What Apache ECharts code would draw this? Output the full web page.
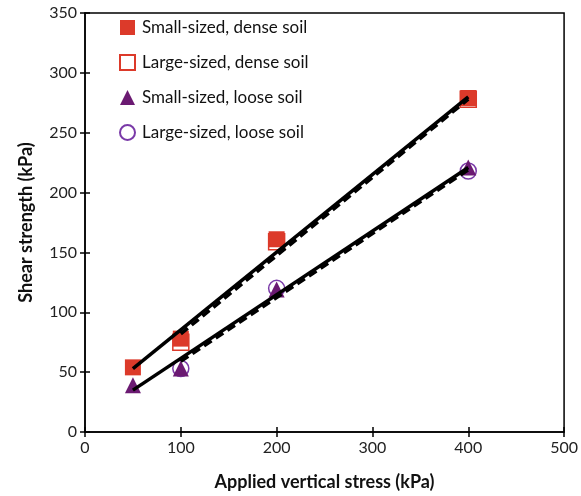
<!DOCTYPE html>
<html>
<head>
<meta charset="utf-8">
<script src="https://cdn.jsdelivr.net/npm/echarts@6/dist/echarts.min.js"></script>
<style>html,body{margin:0;padding:0;background:#fff}#c{width:581px;height:496px}</style>
</head>
<body>
<div id="c"></div>
<script>
const xTicks = [0, 100, 200, 300, 400, 500];
const yTicks = [0, 50, 100, 150, 200, 250, 300, 350];
const seriesNames = ['Small-sized, dense soil', 'Large-sized, dense soil', 'Small-sized, loose soil', 'Large-sized, loose soil'];
const smallDense = [[50, 54], [100, 78], [200, 161], [400, 279]];
const largeDense = [[100, 75], [200, 159], [400, 278]];
const smallLoose = [[50, 39], [100, 53], [200, 119], [400, 221]];
const largeLoose = [[100, 53], [200, 120], [400, 218]];
const fitSmallDense = [[50, 53], [400, 280]];
const fitLargeDense = [[100, 82], [400, 278]];
const fitSmallLoose = [[50, 35], [400, 221]];
const fitLargeLoose = [[100, 59], [400, 219]];

const RED = '#dc3a2a', PURPLE = '#6b1a72', PURPLE2 = '#7a3aa8';
const font = 'Lato, "Open Sans", sans-serif';
const chart = echarts.init(document.getElementById('c'), null, {renderer: 'canvas'});
const gridPos = {left: 85, right: 14, top: 13, bottom: 62};
function lineSeries(data, dashed) {
  return {type: 'line', data, symbol: 'none', z: 5, silent: true,
    lineStyle: {color: '#000', width: 3.5, type: dashed ? [9, 5] : 'solid'}};
}
chart.setOption({
  animation: false,
  grid: Object.assign({show: true, borderColor: '#000', borderWidth: 1.5, backgroundColor: 'transparent'}, gridPos),
  legend: {
    data: seriesNames, orient: 'vertical', left: 114, top: 14,
    itemWidth: 15, itemHeight: 15, itemGap: 18,
    textStyle: {fontFamily: font, fontSize: 17, color: '#111', padding: [0, 0, 0, 2]}
  },
  xAxis: [{
    type: 'value', min: xTicks[0], max: xTicks[xTicks.length - 1], interval: 100,
    name: 'Applied vertical stress (kPa)', nameLocation: 'middle', nameGap: 41,
    nameTextStyle: {fontFamily: font, fontSize: 18, fontWeight: 'bold', color: '#111'},
    axisLine: {lineStyle: {color: '#000', width: 1.5}},
    axisTick: {show: true, length: 5, lineStyle: {color: '#000', width: 1.5}},
    axisLabel: {fontFamily: font, fontSize: 16, color: '#222', margin: 8},
    splitLine: {show: false}
  }, {
    type: 'value', min: 0, max: 500, interval: 100, position: 'bottom',
    axisLine: {show: false}, axisLabel: {show: false}, splitLine: {show: false},
    axisTick: {show: true, inside: true, length: 5, lineStyle: {color: '#000', width: 1.5}}
  }],
  yAxis: [{
    type: 'value', min: yTicks[0], max: yTicks[yTicks.length - 1], interval: 50,
    name: 'Shear strength (kPa)', nameLocation: 'middle', nameGap: 50,
    nameTextStyle: {fontFamily: font, fontSize: 18, fontWeight: 'bold', color: '#111'},
    axisLine: {lineStyle: {color: '#000', width: 1.5}},
    axisTick: {show: true, length: 5, lineStyle: {color: '#000', width: 1.5}},
    axisLabel: {fontFamily: font, fontSize: 16, color: '#222', margin: 8},
    splitLine: {show: false}
  }, {
    type: 'value', min: 0, max: 350, interval: 50, position: 'left',
    axisLine: {show: false}, axisLabel: {show: false}, splitLine: {show: false},
    axisTick: {show: true, inside: true, length: 5, lineStyle: {color: '#000', width: 1.5}}
  }],
  series: [
    {name: seriesNames[1], type: 'scatter', data: largeDense, symbol: 'rect', symbolSize: 16, z: 2,
      itemStyle: {color: '#fff', borderColor: RED, borderWidth: 1.5, opacity: 1}},
    {name: seriesNames[0], type: 'scatter', data: smallDense, symbol: 'rect', symbolSize: 16, z: 3,
      itemStyle: {color: RED, borderColor: RED, borderWidth: 0, opacity: 1}},
    {name: seriesNames[3], type: 'scatter', data: largeLoose, symbol: 'circle', symbolSize: 16, z: 3,
      itemStyle: {color: '#fff', borderColor: PURPLE2, borderWidth: 1.5, opacity: 1}},
    {name: seriesNames[2], type: 'scatter', data: smallLoose, symbol: 'triangle', symbolSize: 16, z: 4,
      itemStyle: {color: PURPLE, opacity: 1}},
    lineSeries(fitLargeDense, true),
    lineSeries(fitSmallDense, false),
    lineSeries(fitLargeLoose, true),
    lineSeries(fitSmallLoose, false)
  ]
});
</script>
</body>
</html>
